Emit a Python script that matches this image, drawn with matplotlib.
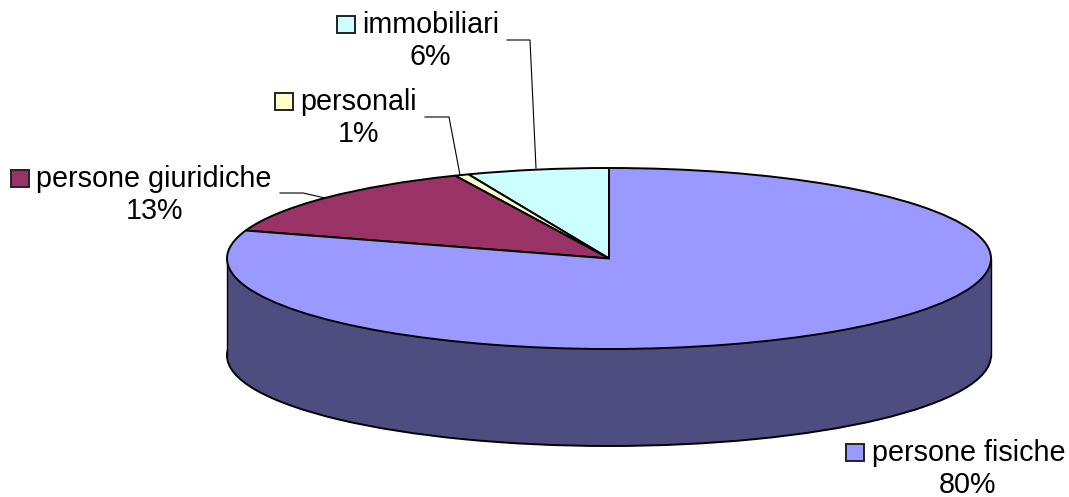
import matplotlib
matplotlib.use('Agg')
import matplotlib.pyplot as plt
from matplotlib.patches import Rectangle

# slices in drawing order, counter clockwise from 12 o'clock
categories = ['immobiliari', 'personali', 'persone giuridiche', 'persone fisiche']
values = [6.0, 0.6, 13.4, 80.0]
pct_labels = ['6%', '1%', '13%', '80%']
colors = ['#CCFFFF', '#FFFFCC', '#993366', '#9999FF']
wall_color = '#4D4D80'

W, H = 1069, 497
cx, cy = 609, 258.5
rx, ry = 382, 90.5
depth = 97 / ry
fontsize = 20.7

plt.rcParams['font.family'] = ['Liberation Sans', 'DejaVu Sans']

fig = plt.figure(figsize=(W / 100, H / 100), dpi=100)
ax = fig.add_axes([0, 0, 1, 1])

# side wall of the disc: lower copy of the ellipse plus a band up to the top face
ax.pie([1], colors=[wall_color], startangle=0, center=(0, -depth), radius=1,
       wedgeprops={'edgecolor': 'black', 'linewidth': 1.4}, frame=True)
ax.add_patch(Rectangle((-1, -depth), 2, depth, facecolor=wall_color, edgecolor='none', zorder=2))
ax.plot([-1, -1], [-depth, 0], color='black', lw=1, zorder=3)
ax.plot([1, 1], [-depth, 0], color='black', lw=1, zorder=3)

wedges, _ = ax.pie(values, colors=colors, startangle=90, counterclock=True, radius=1,
                   wedgeprops={'edgecolor': 'black', 'linewidth': 1.4, 'zorder': 4}, frame=True)

ax.set_aspect('auto')
ax.set_xlim(-cx / rx, (W - cx) / rx)
ax.set_ylim((cy - H) / ry, cy / ry)
ax.axis('off')


def px(x, y):
    return x / W, 1 - y / H


def label(i, key_x, key_y, name_x, name_y, pct_x, pct_y):
    fig.add_artist(Rectangle(px(key_x, key_y + 17), 18 / W, 17 / H, transform=fig.transFigure,
                             facecolor=colors[i], edgecolor='#222222', lw=1.4))
    x, y = px(name_x, name_y)
    fig.text(x, y, categories[i], fontsize=fontsize, ha='left', va='baseline', color='black')
    x, y = px(pct_x, pct_y)
    fig.text(x, y, pct_labels[i], fontsize=fontsize, ha='center', va='baseline', color='black')


def leader(xs, ys):
    pts = [px(a, b) for a, b in zip(xs, ys)]
    fig.add_artist(plt.Line2D([p[0] for p in pts], [p[1] for p in pts],
                              transform=fig.transFigure, color='black', lw=0.8))


label(0, 337, 16, 362, 33, 430, 65)
label(1, 275, 93, 300, 110, 358, 142)
label(2, 11, 170, 36, 187, 154, 219)
label(3, 846, 444, 872, 461, 968, 493)

leader([507, 530, 536], [40, 40, 168])
leader([425, 449, 460], [117, 117, 175])
leader([280, 303, 325], [193, 193, 198])

fig.savefig('out.png', dpi=100)
